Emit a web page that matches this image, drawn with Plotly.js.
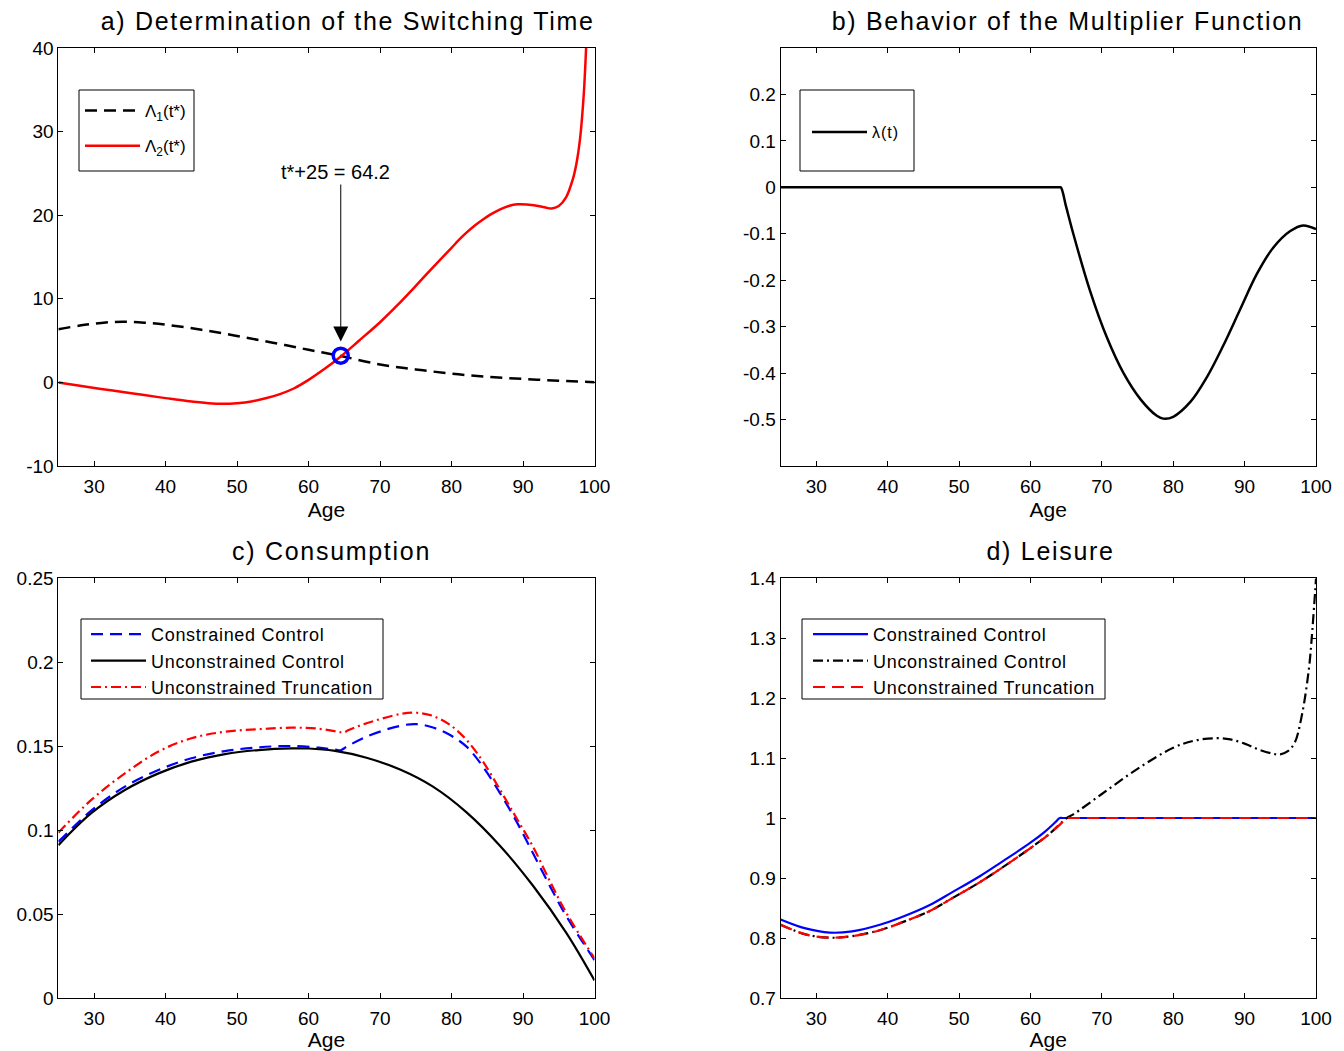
<!DOCTYPE html>
<html><head><meta charset="utf-8">
<script src="https://cdn.plot.ly/plotly-3.0.1.min.js"></script>
<style>
body{margin:0;background:#fff}
#chart{width:1344px;height:1051px}
.annotation[data-index="0"] .annotation-text,
.annotation[data-index="1"] .annotation-text,
.annotation[data-index="2"] .annotation-text,
.annotation[data-index="3"] .annotation-text{letter-spacing:1.7px}
.legend2 text{letter-spacing:1px}
.legend3 text, .legend4 text{letter-spacing:0.7px}
.legend .scrollbox, .legend2 .scrollbox, .legend3 .scrollbox, .legend4 .scrollbox{clip-path:none !important}
</style></head><body><div id="chart"></div>
<script>
// ---------- data ----------
const ageTicks = [30, 40, 50, 60, 70, 80, 90, 100];
const ageTickText = ['30', '40', '50', '60', '70', '80', '90', '100'];

// a) Determination of the switching time
const ageL1 = [25, 28, 31, 34, 37, 40, 45, 50, 55, 60, 64.5, 70, 75, 80, 85, 90, 95, 100];
const lambda1 = [6.35, 6.8, 7.12, 7.26, 7.15, 6.9, 6.3, 5.55, 4.75, 3.9, 3.15, 2.15, 1.55, 1.05, 0.67, 0.42, 0.2, 0.02];
const ageL2 = [25, 28, 31, 34, 37, 40, 43, 46, 48, 50, 52, 54, 56, 58, 60, 62.3, 64.5, 67, 70, 72.5, 75, 77.5, 80, 81.1, 82.2, 83.3, 84.5, 85.6, 86.8, 88, 89.2, 91.5, 93, 94, 95, 96, 97, 97.5, 98, 98.5, 98.8, 99.1];
const lambda2 = [0, -0.4, -0.78, -1.15, -1.52, -1.88, -2.22, -2.48, -2.55, -2.48, -2.28, -1.9, -1.4, -0.7, 0.3, 1.65, 3.1, 4.95, 7.2, 9.3, 11.55, 13.85, 16.1, 17.1, 18.0, 18.8, 19.55, 20.15, 20.7, 21.1, 21.3, 21.2, 20.95, 20.8, 21.1, 22.1, 24.4, 26.3, 29.3, 34.5, 39.5, 46];
const switchAge = [64.5];
const switchValue = [3.2];
const aTicks = [-10, 0, 10, 20, 30, 40];
const aTickText = ['-10', '0', '10', '20', '30', '40'];

// b) Behavior of the multiplier function
const ageB = [25, 64.0, 64.25, 65.0, 66, 68.35, 70.7, 73, 75.4, 77.7, 78.6, 80, 82.4, 84.7, 87, 89.4, 91.7, 94, 96.4, 98.2, 100];
const multiplier = [0, 0, 0, -0.042, -0.1, -0.223, -0.323, -0.399, -0.456, -0.492, -0.498, -0.494, -0.462, -0.409, -0.341, -0.262, -0.187, -0.13, -0.094, -0.082, -0.09];
const bTicks = [-0.5, -0.4, -0.3, -0.2, -0.1, 0, 0.1, 0.2];
const bTickText = ['-0.5', '-0.4', '-0.3', '-0.2', '-0.1', '0', '0.1', '0.2'];

// c) Consumption
const ageCcon = [25, 29.6, 34.3, 39, 43.6, 48.3, 53, 57.6, 61.4, 63.8, 64.5, 65.3, 68.1, 72.8, 75.1, 77.4, 79.8, 82.1, 84.4, 86.8, 89.1, 91.4, 93.8, 96.1, 100];
const consCon = [0.093, 0.1115, 0.1258, 0.1357, 0.1427, 0.147, 0.1492, 0.15, 0.149, 0.1478, 0.1475, 0.1495, 0.1556, 0.162, 0.163, 0.161, 0.1565, 0.1496, 0.1377, 0.1218, 0.105, 0.0861, 0.0663, 0.0484, 0.0226];
const ageCunc = [25, 29.6, 34.3, 39, 43.6, 48.3, 53, 57.6, 60, 63.5, 68.1, 72.8, 77.4, 82.1, 86.8, 91.4, 96.1, 100];
const consUnc = [0.091, 0.110, 0.1238, 0.1337, 0.1407, 0.1452, 0.1476, 0.1486, 0.1485, 0.1472, 0.1430, 0.1360, 0.1258, 0.1105, 0.0905, 0.0668, 0.0385, 0.0105];
const ageCtr = [25, 29.6, 34.3, 39, 43.6, 48.3, 53, 57.6, 61.4, 64.2, 64.9, 65.6, 68.1, 72.8, 75.1, 77.4, 79.8, 82.1, 84.4, 86.8, 89.1, 91.4, 93.8, 96.1, 100];
const consTr = [0.0984, 0.1179, 0.1337, 0.1467, 0.1546, 0.1585, 0.160, 0.1609, 0.1603, 0.1584, 0.158, 0.1595, 0.1635, 0.169, 0.1698, 0.1679, 0.1625, 0.1536, 0.1407, 0.1238, 0.107, 0.090, 0.0692, 0.0504, 0.0236];
const cTicks = [0, 0.05, 0.1, 0.15, 0.2, 0.25];
const cTickText = ['0', '0.05', '0.1', '0.15', '0.2', '0.25'];

// d) Leisure
const ageDcon = [25, 28.5, 31.9, 35, 38.9, 42, 45.9, 49, 52.9, 56, 59.9, 62, 63.4, 64.1, 64.5, 70, 80, 90, 100];
const leisCon = [0.831, 0.816, 0.809, 0.811, 0.822, 0.835, 0.855, 0.876, 0.903, 0.927, 0.958, 0.977, 0.992, 1.0, 1.0, 1.0, 1.0, 1.0, 1.0];
const ageDunc = [25, 28.5, 31.9, 35, 38.9, 42, 45.9, 49, 52.9, 56, 59.9, 62.5, 65.1, 66, 70, 75, 80, 83, 86, 88, 90, 92, 94, 95, 96, 97, 98, 99, 99.5, 100];
const leisUnc = [0.822, 0.806, 0.8005, 0.803, 0.813, 0.826, 0.845, 0.866, 0.893, 0.917, 0.949, 0.972, 1.0, 1.006, 1.04, 1.082, 1.117, 1.129, 1.133, 1.131, 1.124, 1.114, 1.107, 1.106, 1.111, 1.125, 1.17, 1.248, 1.315, 1.399];
const ageDtr = [25, 28.5, 31.9, 35, 38.9, 42, 45.9, 49, 52.9, 56, 59.9, 62.5, 64.4, 65.1, 65.5, 70, 80, 90, 100];
const leisTr = [0.822, 0.806, 0.8005, 0.803, 0.813, 0.826, 0.845, 0.866, 0.893, 0.917, 0.949, 0.972, 0.992, 1.0, 1.0, 1.0, 1.0, 1.0, 1.0];
const dTicks = [0.7, 0.8, 0.9, 1.0, 1.1, 1.2, 1.3, 1.4];
const dTickText = ['0.7', '0.8', '0.9', '1', '1.1', '1.2', '1.3', '1.4'];

const panelTitles = ['a) Determination of the Switching Time', 'b) Behavior of the Multiplier Function', 'c) Consumption', 'd) Leisure'];

// ---------- layout helpers ----------
const W = 1344, H = 1051;
const FONT = 'Liberation Sans, Arial, Helvetica, sans-serif';
const px = v => v / W;
const py = v => 1 - v / H;
const colL = [px(58.4), px(594.5)];
const colR = [px(780.6), px(1316)];
const rowT = [py(466), py(48)];
const rowB = [py(998), py(578)];

function xAx(domain, anchor) {
  return {
    domain: domain, anchor: anchor, range: [25, 100],
    tickmode: 'array', tickvals: ageTicks, ticktext: ageTickText,
    ticks: 'inside', ticklen: 5, tickwidth: 1, tickcolor: '#000',
    showline: true, linecolor: '#000', linewidth: 1, mirror: 'ticks',
    showgrid: false, zeroline: false, ticklabelstandoff: 3,
    tickfont: {family: FONT, size: 19, color: '#000'},
    title: {text: 'Age', font: {family: FONT, size: 21, color: '#000'}, standoff: 6}
  };
}
function yAx(domain, anchor, range, vals, text) {
  return {
    domain: domain, anchor: anchor, range: range,
    tickmode: 'array', tickvals: vals, ticktext: text,
    ticks: 'inside', ticklen: 5, tickwidth: 1, tickcolor: '#000',
    showline: true, linecolor: '#000', linewidth: 1, mirror: 'ticks',
    showgrid: false, zeroline: false,
    tickfont: {family: FONT, size: 19, color: '#000'}
  };
}

const traces = [
  {x: ageL1, y: lambda1, xaxis: 'x', yaxis: 'y', mode: 'lines', name: 'Λ<sub>1</sub>(t*)', legend: 'legend', legendgroup: 'a1',
   line: {color: '#000', width: 2.5, dash: '12px,7px', shape: 'spline', smoothing: 1}},
  {x: ageL2, y: lambda2, xaxis: 'x', yaxis: 'y', mode: 'lines', name: 'Λ<sub>2</sub>(t*)', legend: 'legend', legendgroup: 'a2',
   line: {color: '#ff0000', width: 2.5, shape: 'spline', smoothing: 1}},
  {x: switchAge, y: switchValue, xaxis: 'x', yaxis: 'y', mode: 'markers', showlegend: false,
   marker: {symbol: 'circle-open', size: 15, color: '#0000ff', line: {width: 3.5, color: '#0000ff'}}},

  {x: ageB, y: multiplier, xaxis: 'x2', yaxis: 'y2', mode: 'lines', name: 'λ(t)', legend: 'legend2',
   line: {color: '#000', width: 2.5, shape: 'spline', smoothing: 1}},

  {x: ageCcon, y: consCon, xaxis: 'x3', yaxis: 'y3', mode: 'lines', name: 'Constrained Control', legend: 'legend3', legendgroup: 'c1',
   line: {color: '#0000ff', width: 2.2, dash: '12px,7px', shape: 'spline', smoothing: 1}},
  {x: ageCunc, y: consUnc, xaxis: 'x3', yaxis: 'y3', mode: 'lines', name: 'Unconstrained Control', legend: 'legend3', legendgroup: 'c2',
   line: {color: '#000', width: 2.2, shape: 'spline', smoothing: 1}},
  {x: ageCtr, y: consTr, xaxis: 'x3', yaxis: 'y3', mode: 'lines', name: 'Unconstrained Truncation', legend: 'legend3', legendgroup: 'c3',
   line: {color: '#ff0000', width: 2.2, dash: '10px,4px,2px,4px', shape: 'spline', smoothing: 1}},

  {x: ageDcon, y: leisCon, xaxis: 'x4', yaxis: 'y4', mode: 'lines', name: 'Constrained Control', legend: 'legend4', legendgroup: 'd1',
   line: {color: '#0000ff', width: 2.2, shape: 'spline', smoothing: 1}},
  {x: ageDunc, y: leisUnc, xaxis: 'x4', yaxis: 'y4', mode: 'lines', name: 'Unconstrained Control', legend: 'legend4', legendgroup: 'd2',
   line: {color: '#000', width: 2.2, dash: '10px,4px,2px,4px', shape: 'spline', smoothing: 1}},
  {x: ageDtr, y: leisTr, xaxis: 'x4', yaxis: 'y4', mode: 'lines', name: 'Unconstrained Truncation', legend: 'legend4', legendgroup: 'd3',
   line: {color: '#ff0000', width: 2.2, dash: '12px,7px', shape: 'spline', smoothing: 1}}
];

function legendAt(xPx, yPx, size, gap) {
  return {x: px(xPx), y: py(yPx), xanchor: 'left', yanchor: 'top', xref: 'paper', yref: 'paper',
    bgcolor: 'rgba(0,0,0,0)', borderwidth: 0, itemwidth: 55, traceorder: 'grouped', tracegroupgap: gap,
    font: {family: FONT, size: size, color: '#000'}, itemclick: false, itemdoubleclick: false};
}

function box(x0, y0, x1, y1) {
  return {type: 'rect', xref: 'paper', yref: 'paper', x0: px(x0), x1: px(x1), y0: py(y1), y1: py(y0),
    line: {color: '#000', width: 1}, fillcolor: '#fff', layer: 'below'};
}

function titleAnn(text, xc, yc) {
  return {text: text, xref: 'paper', yref: 'paper', x: px(xc), y: py(yc), xanchor: 'center', yanchor: 'middle',
    showarrow: false, font: {family: FONT, size: 25, color: '#000'}};
}

const layout = {
  width: W, height: H, margin: {l: 0, r: 0, t: 0, b: 0},
  paper_bgcolor: '#fff', plot_bgcolor: 'rgba(0,0,0,0)',
  showlegend: true,
  xaxis: xAx(colL, 'y'), yaxis: yAx(rowT, 'x', [-10, 40], aTicks, aTickText),
  xaxis2: xAx(colR, 'y2'), yaxis2: yAx(rowT, 'x2', [-0.6, 0.3], bTicks, bTickText),
  xaxis3: xAx(colL, 'y3'), yaxis3: yAx(rowB, 'x3', [0, 0.25], cTicks, cTickText),
  xaxis4: xAx(colR, 'y4'), yaxis4: yAx(rowB, 'x4', [0.7, 1.4], dTicks, dTickText),
  legend: legendAt(80, 93, 17, 10),
  legend2: legendAt(807, 115, 16, 0),
  legend3: legendAt(86, 616, 18, 0),
  legend4: legendAt(808, 616, 18, 0),
  shapes: [box(79, 90, 194, 171), box(800, 90, 914, 171), box(81, 619, 383, 699), box(802, 619, 1105, 699)],
  annotations: [
    titleAnn(panelTitles[0], 347, 21),
    titleAnn(panelTitles[1], 1067, 21),
    titleAnn(panelTitles[2], 331, 551),
    titleAnn(panelTitles[3], 1050, 551),
    {text: 't*+25 = 64.2', xref: 'x', yref: 'y', x: 63.7, y: 25.2, showarrow: false, xanchor: 'center', yanchor: 'middle',
     font: {family: FONT, size: 20, color: '#000'}},
    {text: '', xref: 'x', yref: 'y', x: switchAge[0], y: 4.9, axref: 'x', ayref: 'y', ax: switchAge[0], ay: 23.85,
     showarrow: true, arrowhead: 2, arrowsize: 3, arrowwidth: 1, arrowcolor: '#000', standoff: 0}
  ]
};

Plotly.newPlot('chart', traces, layout, {displayModeBar: false, staticPlot: true});
</script></body></html>
